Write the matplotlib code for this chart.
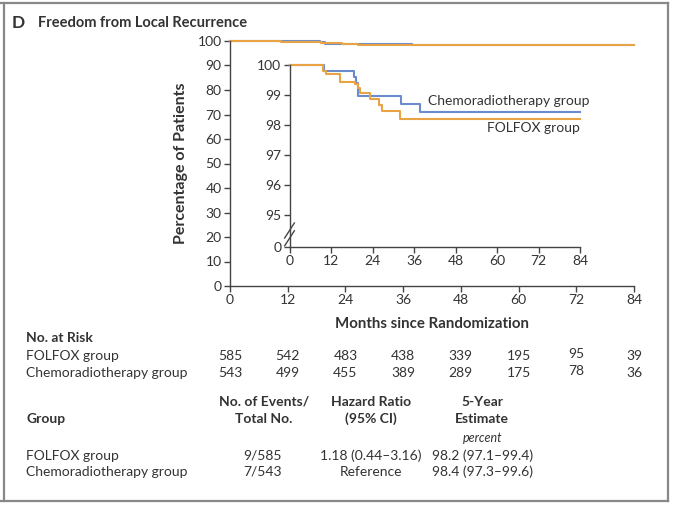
import matplotlib
matplotlib.use("Agg")
import matplotlib.pyplot as plt
from matplotlib.lines import Line2D
import numpy as np

plt.rcParams['font.family'] = ['Lato', 'DejaVu Sans']

# ---------------- data ----------------
months_ticks = [0, 12, 24, 36, 48, 60, 72, 84]
y_ticks_main = [0, 10, 20, 30, 40, 50, 60, 70, 80, 90, 100]
y_ticks_inset = [95, 96, 97, 98, 99, 100]

folfox_t = [0, 9.6, 10.5, 14.6, 19.0, 19.7, 20.5, 23.3, 26.0, 26.7, 32.0, 84]
folfox_s = [100, 99.81, 99.69, 99.44, 99.35, 99.22, 99.08, 98.85, 98.67, 98.45, 98.21, 98.21]
chemo_t = [0, 10.1, 18.7, 19.2, 19.8, 32.2, 37.8, 84]
chemo_s = [100, 99.80, 99.61, 99.40, 98.95, 98.71, 98.44, 98.44]

risk_folfox = [585, 542, 483, 438, 339, 195, 95, 39]
risk_chemo = [543, 499, 455, 389, 289, 175, 78, 36]

groups = ["FOLFOX group", "Chemoradiotherapy group"]
events = ["9/585", "7/543"]
hazard = ["1.18 (0.44\u20133.16)", "Reference"]
estimate = ["98.2 (97.1\u201399.4)", "98.4 (97.3\u201399.6)"]

# ---------------- style ----------------
W, H = 680, 519
BLUE = "#6b8ccc"
ORANGE = "#e8a444"
TXT = "#333333"
AX = "#444444"
FS = 10
TFS = 10

fig = plt.figure(figsize=(W / 100, H / 100), dpi=100)

def fx(px):
    return px / W

def fy(py):
    return 1 - py / H

# frame
fig.add_artist(Line2D([fx(4), fx(4)], [fy(3), fy(501)], color="#888888", lw=1.6))
fig.add_artist(Line2D([fx(668), fx(668)], [fy(3), fy(501)], color="#888888", lw=1.6))
fig.add_artist(Line2D([fx(0), fx(668)], [fy(3), fy(3)], color="#888888", lw=1.6))
fig.add_artist(Line2D([fx(0), fx(668)], [fy(501), fy(501)], color="#888888", lw=1.6))

# title
fig.text(fx(12), fy(23), "D", fontsize=12.5, fontweight="bold", color=TXT, va="center")
fig.text(fx(38), fy(23), "Freedom from Local Recurrence", fontsize=10.5,
         fontweight="bold", color=TXT, va="center")

def style_axes(ax):
    for s in ["top", "right"]:
        ax.spines[s].set_visible(False)
    for s in ["left", "bottom"]:
        ax.spines[s].set_color(AX)
        ax.spines[s].set_linewidth(1.0)
    ax.tick_params(direction="out", length=4.5, width=1.0, color=AX,
                   labelsize=TFS, labelcolor=TXT, pad=1.5)
    ax.patch.set_alpha(0)

# main axes
main = fig.add_axes([fx(230), fy(286), fx(634) - fx(230), fy(41) - fy(286)])
style_axes(main)
main.step(chemo_t, chemo_s, where="post", color=BLUE, lw=1.5, clip_on=False)
main.step(folfox_t, folfox_s, where="post", color=ORANGE, lw=1.5, clip_on=False)
main.set_xlim(0, 84)
main.set_ylim(0, 100)
main.set_xticks(months_ticks)
main.set_yticks(y_ticks_main)
main.set_xlabel("Months since Randomization", fontsize=10.8, fontweight="bold",
                color=TXT, labelpad=8)
main.set_ylabel("Percentage of Patients", fontsize=11.5, fontweight="bold",
                color=TXT, labelpad=7)

# inset axes (broken y axis)
brk = 93.94
inset = fig.add_axes([fx(289.5), fy(246.7), fx(580) - fx(289.5), fy(65) - fy(246.7)])
style_axes(inset)
inset.step(chemo_t, chemo_s, where="post", color=BLUE, lw=1.5, clip_on=False)
inset.step(folfox_t, folfox_s, where="post", color=ORANGE, lw=1.5, clip_on=False)
inset.set_xlim(0, 84)
inset.set_ylim(brk, 100)
inset.set_xticks(months_ticks)
inset.set_yticks([brk] + y_ticks_inset)
inset.set_yticklabels(["0"] + [str(v) for v in y_ticks_inset])
# break marks
for dy in (-0.13, 0.13):
    inset.plot([-1.4, 1.4], [94.35 + dy - 0.25, 94.35 + dy + 0.25], color=AX,
               lw=1.0, clip_on=False, transform=inset.transData)

inset.text(40, 98.8, "Chemoradiotherapy group", fontsize=FS,
           color=TXT, va="center", ha="left")
inset.text(84, 97.9, "FOLFOX group", fontsize=FS,
           color=TXT, va="center", ha="right")

# numbers at risk
fig.text(fx(26), fy(338), "No. at Risk", fontsize=FS, fontweight="bold", color=TXT, va="center")
fig.text(fx(26), fy(356), groups[0], fontsize=FS, color=TXT, va="center")
fig.text(fx(26), fy(373), groups[1], fontsize=FS, color=TXT, va="center")
for i, m in enumerate(months_ticks):
    xd = main.transData.transform((m, 0))[0]
    xf = fig.transFigure.inverted().transform((xd, 0))[0]
    off = 2 if m == 72 else 0
    fig.text(xf, fy(356 - off), str(risk_folfox[i]), fontsize=FS, color=TXT,
             ha="center", va="center")
    fig.text(xf, fy(373 - off), str(risk_chemo[i]), fontsize=FS, color=TXT,
             ha="center", va="center")

# summary table
fig.text(fx(26), fy(419), "Group", fontsize=FS, fontweight="bold", color=TXT, va="center")
hdr = [(264, "No. of Events/", "Total No."), (371, "Hazard Ratio", "(95% CI)"),
       (482, "5-Year", "Estimate")]
for x, l1, l2 in hdr:
    fig.text(fx(x), fy(402), l1, fontsize=FS, fontweight="bold", color=TXT,
             ha="center", va="center")
    fig.text(fx(x), fy(419), l2, fontsize=FS, fontweight="bold", color=TXT,
             ha="center", va="center")
fig.text(fx(483), fy(438), "percent", fontsize=9, style="italic", color=TXT,
         ha="center", va="center")
for i, yy in enumerate([456, 472]):
    fig.text(fx(26), fy(yy), groups[i], fontsize=FS, color=TXT, va="center")
    fig.text(fx(282), fy(yy), events[i], fontsize=FS, color=TXT, ha="right", va="center")
    fig.text(fx(371), fy(yy), hazard[i], fontsize=FS, color=TXT, ha="center", va="center")
    fig.text(fx(432), fy(yy), estimate[i], fontsize=FS, color=TXT, ha="left", va="center")

fig.savefig("out.png", dpi=100)
